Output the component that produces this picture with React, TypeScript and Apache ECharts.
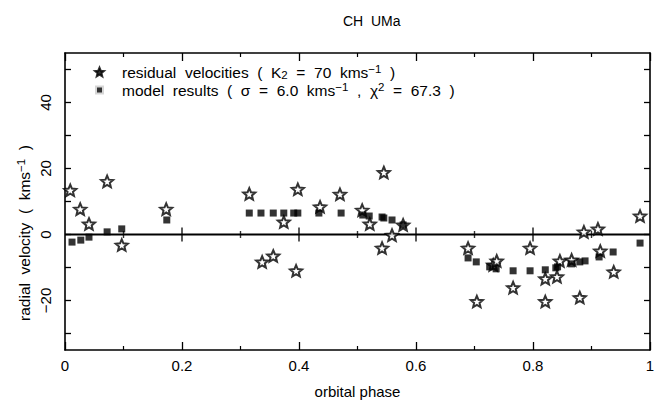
import React, { useEffect, useRef } from "react";
import * as echarts from "echarts";

// residual velocities (stars)
const starPhase = [0.009, 0.026, 0.041, 0.072, 0.097, 0.173, 0.315, 0.337, 0.356, 0.374, 0.395, 0.398, 0.436, 0.470, 0.508, 0.521, 0.542, 0.545, 0.559, 0.578, 0.689, 0.704, 0.732, 0.738, 0.766, 0.795, 0.821, 0.821, 0.841, 0.846, 0.866, 0.880, 0.887, 0.911, 0.915, 0.938, 0.983];
const starVel = [13.4, 7.7, 3.2, 16.1, -3.2, 7.7, 12.3, -8.3, -6.5, 3.8, -11.0, 13.7, 8.4, 12.2, 7.4, 3.2, -4.1, 18.8, -0.2, 2.9, -4.1, -20.3, -9.2, -8.0, -16.1, -4.1, -13.4, -20.3, -12.8, -8.0, -7.7, -19.1, 0.8, 1.7, -5.0, -11.3, 5.6];

// model results (squares)
const modelPhase = [0.012, 0.027, 0.041, 0.072, 0.097, 0.174, 0.315, 0.335, 0.356, 0.374, 0.391, 0.398, 0.434, 0.472, 0.509, 0.520, 0.542, 0.545, 0.559, 0.578, 0.689, 0.703, 0.726, 0.737, 0.766, 0.795, 0.821, 0.839, 0.842, 0.866, 0.880, 0.889, 0.913, 0.937, 0.983];
const modelVel = [-2.3, -1.7, -0.8, 0.8, 1.7, 4.4, 6.5, 6.5, 6.5, 6.5, 6.5, 6.5, 6.5, 6.5, 5.9, 5.6, 5.3, 5.0, 4.4, 2.9, -7.1, -8.3, -9.8, -10.4, -11.0, -11.0, -10.7, -10.1, -9.8, -8.9, -8.3, -8.0, -6.8, -5.3, -2.6];

const xLabels = ["0", "0.2", "0.4", "0.6", "0.8", "1"];
const yTickValues = [-30, -20, -10, 0, 10, 20, 30, 40, 50];
const yLabelValues = [-20, 0, 20, 40];
const zeroMajorTicks = [0.2, 0.4, 0.6, 0.8];
const zeroMinorTicks = [0.1, 0.3, 0.5, 0.7, 0.9];

const FONT = "Liberation Sans";

function makeStarPath(inner: number): string {
  const pts: string[] = [];
  for (let i = 0; i < 10; i++) {
    const a = (-90 + i * 36) * Math.PI / 180;
    const r = i % 2 === 0 ? 50 : 50 * inner;
    pts.push(`${(50 + r * Math.cos(a)).toFixed(2)},${(50 + r * Math.sin(a)).toFixed(2)}`);
  }
  return "path://M" + pts.join(" L") + " Z";
}

export default function App() {
  const ref = useRef<HTMLDivElement>(null);
  useEffect(() => {
    if (!ref.current) return;
    const chart = echarts.init(ref.current, undefined, { renderer: "svg" });
    const star = makeStarPath(0.45);
    const axisLineStyle = { color: "#000", width: 1.6 };
    const rich = {
      t: { fontFamily: FONT, fontSize: 15.5, color: "#000", lineHeight: 18, verticalAlign: "middle" as const },
      sub: { fontFamily: FONT, fontSize: 11.5, color: "#000", lineHeight: 9, verticalAlign: "bottom" as const },
      sup: { fontFamily: FONT, fontSize: 11.5, color: "#000", lineHeight: 9, verticalAlign: "top" as const },
    };
    chart.setOption({
      animation: false,
      backgroundColor: "#fff",
      title: {
        text: "CH  UMa",
        left: 338,
        top: 9,
        textStyle: { fontFamily: FONT, fontSize: 14, fontWeight: "normal", color: "#000" },
      },
      legend: {
        left: 93,
        top: 63,
        padding: 0,
        orient: "vertical",
        itemWidth: 9,
        itemHeight: 9,
        itemGap: 0,
        selectedMode: false,
        data: [
          { name: "residual", icon: star, itemStyle: { color: "#000", borderColor: "#000" } },
          { name: "model", icon: "rect", itemStyle: { color: "#000", borderColor: "#fff", borderWidth: 4 } },
        ],
        formatter: (name: string) =>
          name === "residual"
            ? "{t|residual  velocities  (  K}{sub|2}{t|  =  70  kms}{sup|−1}{t|  )}"
            : "{t|model  results  (  σ  =  6.0  kms}{sup|−1}{t|  ,  χ}{sup|2}{t|  =  67.3  )}",
        textStyle: { padding: [0, 0, 0, 13], rich },
      },
      graphic: [
        {
          type: "text",
          x: 24,
          y: 233,
          rotation: Math.PI / 2,
          silent: true,
          style: {
            text: "{t|radial  velocity  (  kms}{sup|−1}{t|  )}",
            rich,
            align: "center",
            verticalAlign: "middle",
          },
        },
      ],
      grid: { left: 65, right: 14, top: 53, bottom: 52, containLabel: false },
      xAxis: [
        {
          type: "value",
          min: 0,
          max: 1,
          interval: 0.2,
          position: "bottom",
          axisLine: { onZero: false, lineStyle: axisLineStyle },
          axisTick: { inside: true, length: 8, lineStyle: { color: "#000", width: 1.3 } },
          minorTick: { show: true, splitNumber: 2, length: 4, lineStyle: { color: "#000", width: 1.2 } },
          splitLine: { show: false },
          axisLabel: {
            margin: 8,
            fontFamily: FONT,
            fontSize: 15,
            color: "#000",
            formatter: (v: number) => xLabels[Math.round(v * 5)],
          },
          name: "orbital phase",
          nameLocation: "middle",
          nameGap: 34,
          nameTextStyle: { fontFamily: FONT, fontSize: 15, color: "#000" },
        },
        {
          type: "value",
          min: 0,
          max: 1,
          interval: 0.2,
          position: "top",
          axisLine: { onZero: false, lineStyle: axisLineStyle },
          axisTick: { inside: true, length: 8, lineStyle: { color: "#000", width: 1.3 } },
          minorTick: { show: true, splitNumber: 2, length: 4, lineStyle: { color: "#000", width: 1.2 } },
          splitLine: { show: false },
          axisLabel: { show: false },
        },
      ],
      yAxis: [
        {
          type: "value",
          min: -35,
          max: 55,
          position: "left",
          axisLine: { onZero: false, lineStyle: axisLineStyle },
          axisTick: { inside: true, length: 6, customValues: yTickValues, lineStyle: { color: "#000", width: 1.3 } },
          splitLine: { show: false },
          axisLabel: {
            customValues: yLabelValues,
            rotate: 90,
            margin: 12,
            fontFamily: FONT,
            fontSize: 15,
            color: "#000",
            formatter: (v: number) => (v < 0 ? "−" + Math.abs(v) : String(v)),
          },
        },
        {
          type: "value",
          min: -35,
          max: 55,
          position: "right",
          axisLine: { onZero: false, lineStyle: axisLineStyle },
          axisTick: { inside: true, length: 6, customValues: yTickValues, lineStyle: { color: "#000", width: 1.3 } },
          splitLine: { show: false },
          axisLabel: { show: false },
        },
      ],
      series: [
        {
          name: "zero",
          type: "line",
          data: [[0, 0], [1, 0]],
          symbol: "none",
          lineStyle: { color: "#000", width: 1.8 },
          z: 1,
          silent: true,
        },
        {
          name: "zeroMajor",
          type: "scatter",
          data: zeroMajorTicks.map((p) => [p, 0]),
          symbol: "rect",
          symbolSize: [1.6, 14],
          itemStyle: { color: "#000" },
          z: 1,
          silent: true,
        },
        {
          name: "zeroMinor",
          type: "scatter",
          data: zeroMinorTicks.map((p) => [p, 0]),
          symbol: "rect",
          symbolSize: [1.4, 7],
          itemStyle: { color: "#000" },
          z: 1,
          silent: true,
        },
        {
          name: "residual",
          type: "scatter",
          data: starPhase.map((p, i) => [p, starVel[i]]),
          symbol: star,
          symbolKeepAspect: true,
          symbolSize: 12,
          itemStyle: { color: "#fff", borderColor: "#000", borderWidth: 2 },
          z: 3,
        },
        {
          name: "model",
          type: "scatter",
          data: modelPhase.map((p, i) => [p, modelVel[i]]),
          symbol: "rect",
          symbolSize: 7,
          itemStyle: { color: "#000" },
          z: 4,
        },
      ],
    });
    return () => chart.dispose();
  }, []);
  return <div ref={ref} style={{ width: 664, height: 404, position: "absolute", left: 0, top: 0 }} />;
}
